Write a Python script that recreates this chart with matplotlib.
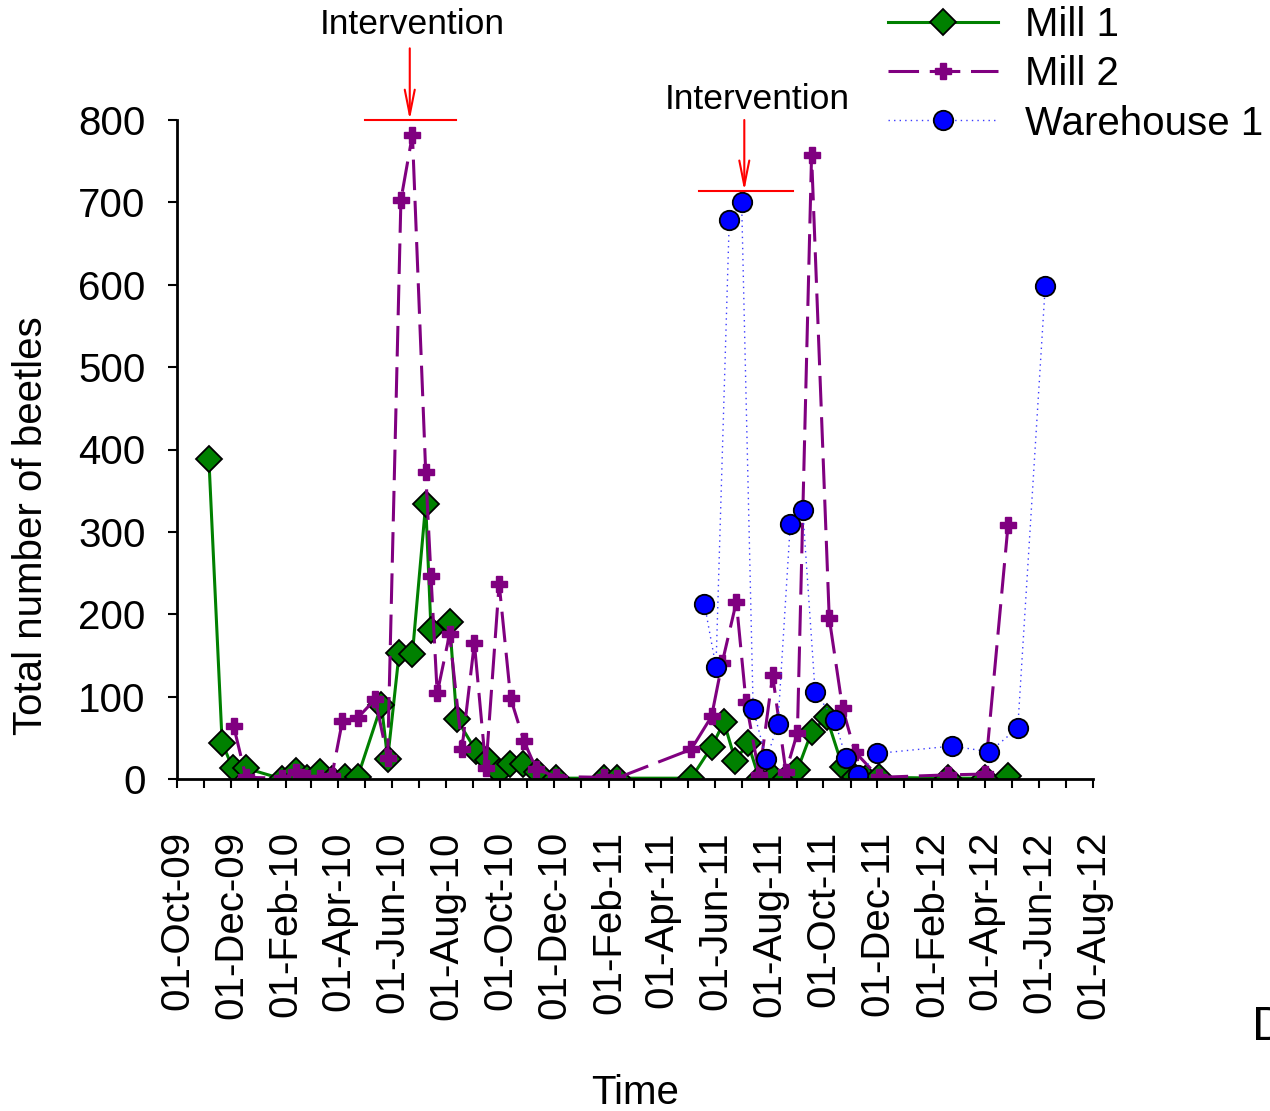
import matplotlib
matplotlib.use("Agg")
import matplotlib.pyplot as plt
import matplotlib.dates as mdates
import pandas as pd

plt.rcParams["font.family"] = ["Liberation Sans", "DejaVu Sans"]

# sampling dates and beetle counts per site
mill1_dates = [
    "2009-11-06", "2009-11-21", "2009-12-03", "2009-12-18", "2010-01-28", "2010-02-12",
    "2010-02-25", "2010-03-12", "2010-03-25", "2010-04-09", "2010-04-23", "2010-05-20",
    "2010-05-27", "2010-06-09", "2010-06-24", "2010-07-09", "2010-07-15", "2010-08-05",
    "2010-08-13", "2010-09-04", "2010-09-17", "2010-09-30", "2010-10-12", "2010-10-27",
    "2010-11-12", "2010-12-03", "2011-01-27", "2011-02-10", "2011-05-05", "2011-05-28",
    "2011-06-11", "2011-06-24", "2011-07-08", "2011-07-21", "2011-08-05", "2011-08-20",
    "2011-09-02", "2011-09-18", "2011-10-05", "2011-10-23", "2011-11-06", "2011-11-19",
    "2011-12-03", "2012-02-19", "2012-04-01", "2012-04-27",
]
mill1_counts = [
    389, 44, 13, 13, 0, 10,
    1, 9, 0, 2, 2, 90,
    24, 153, 152, 334, 181, 191,
    73, 34, 23, 9, 18, 18,
    8, 1, 1, 1, 1, 39,
    69, 22, 44, 0, 2, 1,
    11, 57, 75, 15, 2, 1,
    2, 1, 1, 4,
]

mill2_dates = [
    "2009-12-04", "2009-12-18", "2010-01-28", "2010-02-12", "2010-02-25", "2010-03-12",
    "2010-03-25", "2010-04-06", "2010-04-23", "2010-05-13", "2010-05-27", "2010-06-11",
    "2010-06-24", "2010-07-09", "2010-07-15", "2010-07-22", "2010-08-05", "2010-08-19",
    "2010-09-02", "2010-09-15", "2010-09-30", "2010-10-13", "2010-10-28", "2010-11-11",
    "2010-12-03", "2011-01-26", "2011-02-10", "2011-05-05", "2011-05-28", "2011-06-09",
    "2011-06-25", "2011-07-06", "2011-07-21", "2011-08-05", "2011-08-20", "2011-09-02",
    "2011-09-18", "2011-10-08", "2011-10-23", "2011-11-06", "2011-12-03", "2012-02-19",
    "2012-04-01", "2012-04-27",
]
mill2_counts = [
    64, 2, 1, 8, 1, 1,
    4, 71, 74, 97, 25, 703,
    782, 373, 246, 104, 176, 37,
    165, 13, 237, 98, 46, 12,
    3, 2, 1, 36, 76, 141,
    215, 93, 5, 126, 9, 56,
    757, 195, 86, 33, 2, 5,
    6, 308,
]

wh1_dates = [
    "2011-05-20", "2011-06-02", "2011-06-17", "2011-07-01", "2011-07-14", "2011-07-29",
    "2011-08-11", "2011-08-25", "2011-09-08", "2011-09-22", "2011-10-14", "2011-10-27",
    "2011-11-10", "2011-12-01", "2012-02-24", "2012-04-06", "2012-05-08", "2012-06-08",
]
wh1_counts = [
    212, 136, 678, 700, 85, 24,
    67, 310, 327, 106, 72, 25,
    5, 31, 40, 33, 62, 598,
]

# intervention markers: (text pos, arrow start, arrow tip, bar start, bar end)
interventions = [
    (("2010-06-24", 916), ("2010-06-21", 887), ("2010-06-21", 800), ("2010-05-01", 800), ("2010-08-12", 800)),
    (("2011-07-19", 825), ("2011-07-04", 800), ("2011-07-04", 714), ("2011-05-14", 714), ("2011-08-28", 714)),
]

FS = 29
W, H = 1270, 1111

fig = plt.figure(figsize=(W / 100, H / 100), dpi=100)
ax = fig.add_axes([177 / W, 1 - 779 / H, (1093 - 177) / W, (779 - 120) / H])

ax.plot(pd.to_datetime(mill1_dates), mill1_counts, color="#008000", lw=2.2,
        marker="D", ms=13, mfc="#008000", mec="black", mew=1.3, label="Mill 1")
ax.plot(pd.to_datetime(mill2_dates), mill2_counts, color="#800080", lw=2.2,
        dashes=(10, 3.5), marker="P", ms=11.5, mfc="#800080", mec="#800080", label="Mill 2")
ax.plot(pd.to_datetime(wh1_dates), wh1_counts, color="#3a3aff", lw=1.0,
        ls=(0, (1, 3)), marker="o", ms=14, mfc="#0000ff", mec="black", mew=1.3,
        label="Warehouse 1")

for txt, start, tip, b0, b1 in interventions:
    d = lambda p: (mdates.date2num(pd.Timestamp(p[0])), p[1])
    ax.annotate("", xy=d(tip), xytext=d(start), annotation_clip=False,
                arrowprops=dict(arrowstyle="->,head_length=0.9,head_width=0.18",
                                color="red", lw=1.5, shrinkA=0, shrinkB=0,
                                mutation_scale=20))
    xs = [mdates.date2num(pd.Timestamp(b0[0])), mdates.date2num(pd.Timestamp(b1[0]))]
    ax.plot(xs, [b0[1], b1[1]], color="red", lw=1.5, clip_on=False)
    ax.text(*d(txt), "Intervention", fontsize=25.5, ha="center", va="center", clip_on=False)

ax.set_xlim(pd.Timestamp("2009-10-01"), pd.Timestamp("2012-08-01"))
ax.set_ylim(0, 800)
ax.set_yticks(range(0, 801, 100))
ax.xaxis.set_major_locator(mdates.MonthLocator(bymonth=[2, 4, 6, 8, 10, 12]))
ax.xaxis.set_minor_locator(mdates.MonthLocator(bymonth=[1, 3, 5, 7, 9, 11]))
ax.xaxis.set_major_formatter(mdates.DateFormatter("%d-%b-%y"))

for s in ("top", "right"):
    ax.spines[s].set_visible(False)
for s in ("left", "bottom"):
    ax.spines[s].set_linewidth(2)

ax.tick_params(axis="x", which="both", direction="out", length=6.5, width=1.5)
ax.tick_params(axis="x", which="major", labelsize=FS, labelrotation=90, pad=31)
ax.tick_params(axis="y", direction="out", length=6.5, width=1.5, labelsize=FS, pad=16)
for lab in ax.get_xticklabels():
    lab.set_va("top")
    lab.set_ha("center")

fig.text(31 / W, 1 - 526 / H, "Total number of beetles", rotation=90, fontsize=FS,
         ha="center", va="center")
fig.text(635 / W, 1 - 1093 / H, "Time", fontsize=FS, ha="center", va="center")
fig.text(1252 / W, 1 - 1040 / H, "D", fontsize=35, ha="left", va="baseline")

fig.legend(loc="upper left", bbox_to_anchor=(888 / W, 1 - 6 / H), frameon=False,
           fontsize=FS, handlelength=2.73, handletextpad=0.67, labelspacing=0.28,
           borderpad=0, borderaxespad=0, numpoints=1)

fig.savefig("out.png", dpi=100)
